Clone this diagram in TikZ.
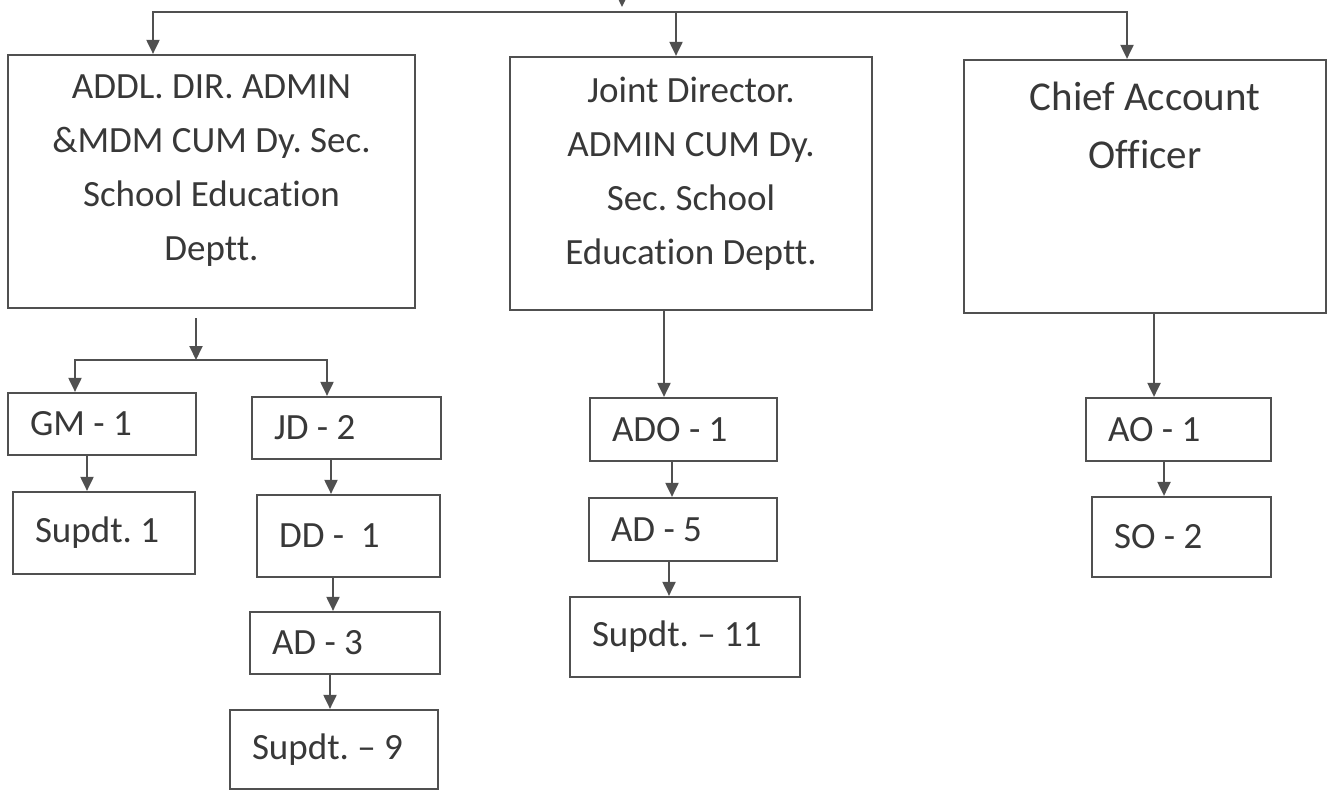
\documentclass[tikz,border=0pt]{standalone}
\usepackage{fontspec}
\setmainfont{Carlito}[Ligatures={TeX,NoCommon}]
\usetikzlibrary{arrows.meta, positioning}
\definecolor{linegray}{HTML}{505050}
\definecolor{textgray}{HTML}{383838}
\tikzstyle{bigbox} = [rectangle, draw=linegray, line width=2.2pt, minimum height=253pt, inner sep=0pt]
\tikzstyle{bigtext} = [align=center, inner sep=0pt, text=textgray, font=\fontsize{37}{54}\selectfont, execute at begin node={\frenchspacing\spaceskip=0pt\xspaceskip=0pt}]
\tikzstyle{smallbox} = [rectangle, draw=linegray, line width=2.2pt, inner xsep=22pt, inner ysep=0pt, align=left, text=textgray, font=\fontsize{37}{44}\selectfont, execute at begin node={\frenchspacing\spaceskip=0pt\xspaceskip=0pt}]
\tikzstyle{arrow} = [line width=2pt, draw=linegray, -{Triangle[length=14pt, width=13pt]}]

\begin{document}
\begin{tikzpicture}[x=1pt, y=-1pt]
\useasboundingbox (0,0) rectangle (1329,791);
\clip (0,0) rectangle (1329,791);
% top level
\node (addl) [bigbox, minimum width=407pt] at (211.5,181.5) {};
\node (addltext) [bigtext, below=21pt of addl.north] {ADDL. DIR. ADMIN\\\&MDM CUM Dy. Sec.\\School Education\\Deptt.};
\node (joint) [bigbox, minimum width=362pt] at (691,183.5) {};
\node (jointtext) [bigtext, below=21pt of joint.north] {Joint Director.\\ADMIN CUM Dy.\\Sec. School\\Education Deptt.};
\node (chief) [bigbox, minimum width=362pt] at (1145,186.5) {};
\node (chieftext) [bigtext, font=\fontsize{41}{58}\selectfont, below=23pt of chief.north] {Chief Account\\Officer};
\coordinate (top) at (622,-30);
\coordinate (split0) at (622,12);
\draw [arrow] (top) -- ([yshift=5pt]split0);
\draw [arrow] (split0) -| (addl.north -| 153,0);
\draw [arrow] (split0) -| (joint.north -| 676,0);
\draw [arrow] (split0) -| (chief.north -| 1127,0);
% left branch
\coordinate (split1) at (196,360);
\draw [arrow] (addl.south -| 196,0) ++(0,9) -- (split1);
\node (gm) [smallbox, text width=144pt, minimum height=62pt] at (102,424) {GM - 1};
\draw [arrow] (split1) -| (gm.north -| 75,0);
\node (jd) [smallbox, text width=145pt, minimum height=62pt] at (346.5,428) {JD - 2};
\draw [arrow] (split1) -| (jd.north -| 327,0);
\node (supa) [smallbox, text width=138pt, minimum height=82pt] at (104,533) {Supdt. 1};
\draw [arrow] (gm.south -| 87,0) -- (supa.north -| 87,0);
\node (dd) [smallbox, text width=139pt, minimum height=82pt] at (348.5,536) {DD -\ \ 1};
\draw [arrow] (jd.south -| 331,0) -- (dd.north -| 331,0);
\node (adc) [smallbox, text width=146pt, minimum height=62pt] at (345,643) {AD - 3};
\draw [arrow] (dd.south -| 333,0) -- (adc.north -| 333,0);
\node (supb) [smallbox, text width=164pt, minimum height=79pt] at (334,749.5) {Supdt. – 9};
\draw [arrow] (adc.south -| 330,0) -- (supb.north -| 330,0);
% middle branch
\node (ado) [smallbox, text width=143pt, minimum height=63pt] at (683.5,429.5) {ADO - 1};
\draw [arrow] (joint.south -| 664,0) -- (ado.north -| 664,0);
\node (ade) [smallbox, text width=144pt, minimum height=63pt] at (683,529.5) {AD - 5};
\draw [arrow] (ado.south -| 672,0) -- (ade.north -| 672,0);
\node (supc) [smallbox, text width=186pt, minimum height=80pt] at (685,637) {Supdt. – 11};
\draw [arrow] (ade.south -| 669,0) -- (supc.north -| 669,0);
% right branch
\node (ao) [smallbox, text width=141pt, minimum height=63pt] at (1178.5,429.5) {AO - 1};
\draw [arrow] (chief.south -| 1154,0) -- (ao.north -| 1154,0);
\node (so) [smallbox, text width=135pt, minimum height=80pt] at (1181.5,537) {SO - 2};
\draw [arrow] (ao.south -| 1164,0) -- (so.north -| 1164,0);
\end{tikzpicture}
\end{document}
